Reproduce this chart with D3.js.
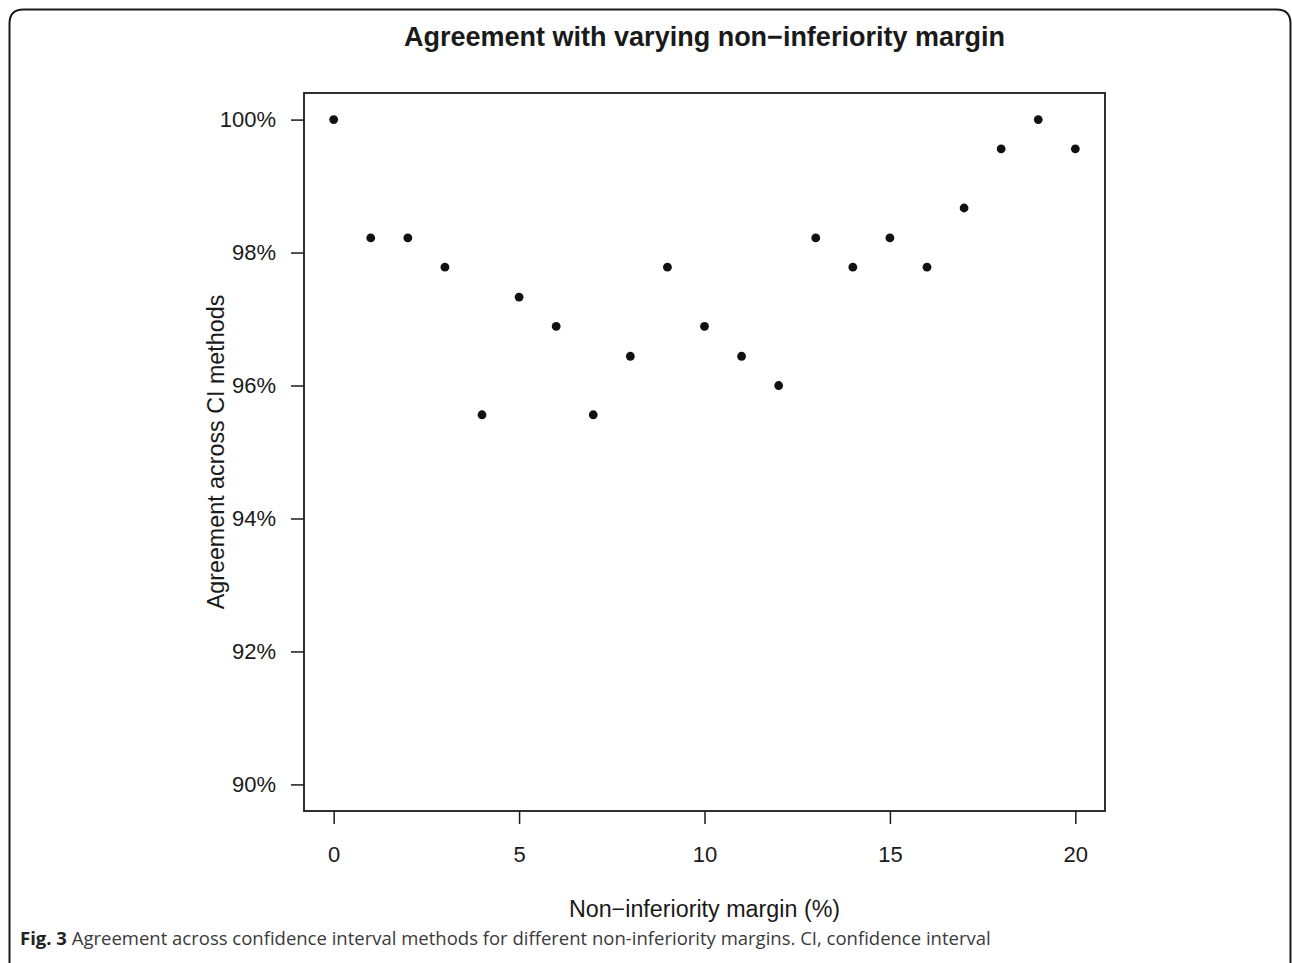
<!DOCTYPE html>
<html>
<head>
<meta charset="utf-8">
<script src="https://cdn.jsdelivr.net/npm/d3@7"></script>
<style>
  html, body { margin: 0; padding: 0; background: #fff; }
  svg { display: block; }
</style>
</head>
<body>
<svg id="chart" width="1292" height="963"></svg>
<script>
// Non-inferiority margin (%) and agreement across CI methods (%)
const margins = [0, 1, 2, 3, 4, 5, 6, 7, 8, 9, 10, 11, 12, 13, 14, 15, 16, 17, 18, 19, 20];
const agreement = [100, 98.22, 98.22, 97.78, 95.56, 97.33, 96.89, 95.56, 96.44, 97.78,
                   96.89, 96.44, 96.0, 98.22, 97.78, 98.22, 97.78, 98.67, 99.56, 100, 99.56];
const xTicks = [0, 5, 10, 15, 20];
const yTicks = [90, 92, 94, 96, 98, 100];
const yTickLabels = ["90%", "92%", "94%", "96%", "98%", "100%"];

const titleText = "Agreement with varying non\u2212inferiority margin";
const xLabelText = "Non\u2212inferiority margin (%)";
const yLabelText = "Agreement across CI methods";
const captionBold = "Fig. 3";
const captionText = " Agreement across confidence interval methods for different non-inferiority margins. CI, confidence interval";

const svg = d3.select("#chart");
const font = "'Liberation Sans', Arial, Helvetica, sans-serif";

// Figure frame with rounded top corners
const r = 14;
svg.append("path")
  .attr("d", `M9.5,963 L9.5,${9.5 + r} Q9.5,9.5 ${9.5 + r},9.5 L${1290.5 - r},9.5 Q1290.5,9.5 1290.5,${9.5 + r} L1290.5,963`)
  .attr("fill", "none").attr("stroke", "#1a1a1a").attr("stroke-width", 2);

// Plot region (R-style 4% padding on each axis)
const box = { left: 304, right: 1105, top: 93, bottom: 811 };
const xPad = (20 - 0) * 0.04, yPad = (100 - 90) * 0.04;
const x = d3.scaleLinear().domain([0 - xPad, 20 + xPad]).range([box.left, box.right]);
const y = d3.scaleLinear().domain([90 - yPad, 100 + yPad]).range([box.bottom, box.top]);

// Axes
const xAxis = d3.axisBottom(x).tickValues(xTicks).tickSize(13).tickPadding(22).tickSizeOuter(0);
const yAxis = d3.axisLeft(y).tickValues(yTicks).tickSize(13).tickPadding(15).tickSizeOuter(0)
  .tickFormat((d, i) => yTickLabels[i]);

const gx = svg.append("g").attr("transform", `translate(0,${box.bottom})`).call(xAxis);
const gy = svg.append("g").attr("transform", `translate(${box.left},0)`).call(yAxis);
[gx, gy].forEach(g => {
  g.select(".domain").remove();
  g.selectAll(".tick line").attr("stroke", "#1a1a1a").attr("stroke-width", 1.5);
  g.selectAll(".tick text").attr("fill", "#1a1a1a").style("font-family", font).style("font-size", "22px");
});

// Plot box
svg.append("rect")
  .attr("x", box.left).attr("y", box.top)
  .attr("width", box.right - box.left).attr("height", box.bottom - box.top)
  .attr("fill", "none").attr("stroke", "#1a1a1a").attr("stroke-width", 1.8);

// Points
svg.append("g").selectAll("circle")
  .data(margins.map((m, i) => ({ m, a: agreement[i] })))
  .join("circle")
  .attr("cx", d => x(d.m)).attr("cy", d => y(d.a))
  .attr("r", 4.4).attr("fill", "#111");

// Title
svg.append("text")
  .attr("x", (box.left + box.right) / 2).attr("y", 46)
  .attr("text-anchor", "middle")
  .style("font-family", font).style("font-size", "27px").style("font-weight", "bold")
  .attr("fill", "#1a1a1a")
  .text(titleText);

// Axis titles
svg.append("text")
  .attr("x", (box.left + box.right) / 2).attr("y", 917)
  .attr("text-anchor", "middle")
  .style("font-family", font).style("font-size", "23.3px")
  .attr("fill", "#1a1a1a")
  .text(xLabelText);

svg.append("text")
  .attr("transform", `translate(224,${(box.top + box.bottom) / 2}) rotate(-90)`)
  .attr("text-anchor", "middle")
  .style("font-family", font).style("font-size", "23.3px")
  .attr("fill", "#1a1a1a")
  .text(yLabelText);

// Caption
const cap = svg.append("text")
  .attr("x", 20).attr("y", 945)
  .style("font-family", "'Open Sans', 'Noto Sans', sans-serif").style("font-size", "18.5px")
  .attr("fill", "#3a3a3a");
cap.append("tspan").style("font-weight", "bold").attr("fill", "#222").text(captionBold);
cap.append("tspan").text(captionText);
</script>
</body>
</html>
